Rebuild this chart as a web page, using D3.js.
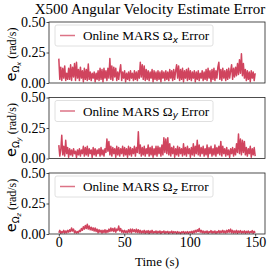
<!DOCTYPE html>
<html>
<head>
<meta charset="utf-8">
<script src="https://cdnjs.cloudflare.com/ajax/libs/d3/7.8.5/d3.min.js"></script>
<style>
  body { margin: 0; background: #fff; overflow: hidden; }
  text { font-family: "Liberation Serif", "DejaVu Serif", serif; fill: #000; }
</style>
</head>
<body>
<script>
// sample grid of the error signals (s)
var timeStart = 0, timeStep = 0.75;

var xTicks = [0, 50, 100, 150];
var yTicks = [0, 0.25, 0.5];
var axisNames = ["x", "y", "z"];

// |error| of the online estimate, rad/s
var errX = [
  0.20,0.03,0.13,0.02,0.12,0.04,0.14,0.02,0.08,0.03,
  0.12,0.03,0.15,0.02,0.13,0.05,0.16,0.02,0.17,0.04,
  0.11,0.02,0.13,0.04,0.10,0.01,0.12,0.03,0.11,0.02,
  0.155,0.03,0.09,0.02,0.08,0.04,0.09,0.01,0.08,0.03,
  0.10,0.02,0.12,0.03,0.11,0.01,0.12,0.04,0.10,0.02,
  0.12,0.04,0.20,0.03,0.14,0.02,0.13,0.05,0.12,0.02,
  0.09,0.03,0.10,0.15,0.02,0.09,0.04,0.10,0.01,0.08,
  0.03,0.09,0.02,0.10,0.04,0.08,0.02,0.10,0.03,0.09,
  0.02,0.10,0.04,0.17,0.05,0.15,0.03,0.14,0.02,0.11,
  0.03,0.10,0.02,0.09,0.04,0.11,0.01,0.10,0.03,0.09,
  0.02,0.10,0.03,0.09,0.01,0.10,0.04,0.09,0.02,0.10,
  0.03,0.09,0.02,0.11,0.04,0.10,0.02,0.11,0.03,0.10,
  0.15,0.04,0.14,0.02,0.11,0.03,0.12,0.01,0.10,0.04,
  0.11,0.02,0.12,0.03,0.10,0.02,0.09,0.04,0.10,0.01,
  0.09,0.03,0.10,0.02,0.08,0.04,0.10,0.02,0.09,0.03,
  0.11,0.02,0.12,0.04,0.10,0.01,0.11,0.03,0.12,0.02,
  0.10,0.04,0.13,0.17,0.03,0.11,0.02,0.12,0.04,0.10,
  0.02,0.11,0.03,0.12,0.04,0.10,0.15,0.03,0.12,0.05,
  0.13,0.06,0.16,0.07,0.19,0.08,0.24,0.06,0.16,0.04,
  0.11,0.02,0.10,0.03,0.09,0.01,0.10,0.04,0.09,0.02,0.08
];

var errY = [
  0.11,0.02,0.07,0.19,0.03,0.10,0.02,0.15,0.04,0.09,
  0.01,0.08,0.03,0.07,0.02,0.08,0.04,0.06,0.01,0.07,
  0.03,0.08,0.02,0.07,0.04,0.10,0.02,0.09,0.03,0.10,
  0.02,0.08,0.04,0.07,0.01,0.09,0.03,0.08,0.02,0.07,
  0.04,0.08,0.02,0.09,0.03,0.07,0.02,0.08,0.05,0.16,
  0.06,0.14,0.03,0.10,0.02,0.09,0.04,0.08,0.01,0.10,
  0.03,0.09,0.02,0.08,0.04,0.10,0.02,0.09,0.03,0.08,
  0.01,0.10,0.03,0.09,0.02,0.08,0.04,0.10,0.02,0.09,
  0.05,0.22,0.04,0.11,0.02,0.09,0.03,0.10,0.02,0.08,
  0.04,0.11,0.02,0.09,0.03,0.10,0.01,0.08,0.03,0.10,
  0.02,0.10,0.04,0.09,0.02,0.11,0.03,0.17,0.05,0.16,
  0.04,0.17,0.03,0.12,0.02,0.09,0.04,0.10,0.01,0.08,
  0.03,0.10,0.02,0.09,0.04,0.08,0.02,0.12,0.03,0.09,
  0.02,0.10,0.04,0.08,0.01,0.09,0.03,0.12,0.02,0.10,
  0.04,0.15,0.03,0.11,0.02,0.09,0.04,0.10,0.02,0.08,
  0.03,0.11,0.01,0.09,0.04,0.10,0.02,0.08,0.03,0.11,
  0.02,0.09,0.04,0.10,0.03,0.14,0.02,0.10,0.04,0.08,
  0.02,0.09,0.03,0.07,0.01,0.08,0.04,0.09,0.02,0.08,
  0.03,0.12,0.05,0.20,0.04,0.16,0.03,0.15,0.05,0.14,
  0.03,0.09,0.02,0.08,0.04,0.10,0.01,0.08,0.03,0.09,0.02
];

var errZ = [
  0.01,0.03,0.005,0.02,0.01,0.03,0.008,0.025,0.01,0.03,
  0.015,0.035,0.02,0.05,0.025,0.04,0.01,0.025,0.008,0.02,
  0.01,0.03,0.02,0.045,0.03,0.06,0.04,0.07,0.045,0.08,
  0.04,0.065,0.035,0.055,0.03,0.05,0.025,0.05,0.02,0.04,
  0.01,0.035,0.015,0.03,0.008,0.03,0.012,0.035,0.01,0.03,
  0.015,0.04,0.02,0.05,0.025,0.045,0.02,0.05,0.015,0.04,
  0.03,0.065,0.025,0.045,0.015,0.03,0.01,0.03,0.012,0.025,
  0.01,0.035,0.015,0.04,0.01,0.04,0.02,0.035,0.015,0.04,
  0.012,0.035,0.01,0.03,0.008,0.025,0.01,0.03,0.006,0.025,
  0.01,0.028,0.005,0.025,0.01,0.03,0.008,0.02,0.01,0.025,
  0.006,0.022,0.01,0.025,0.005,0.02,0.012,0.025,0.006,0.02,
  0.01,0.022,0.005,0.018,0.01,0.024,0.006,0.02,0.01,0.018,
  0.005,0.02,0.008,0.015,0.004,0.018,0.01,0.02,0.005,0.017,
  0.008,0.02,0.005,0.018,0.01,0.022,0.006,0.025,0.01,0.03,
  0.015,0.035,0.02,0.045,0.015,0.03,0.01,0.025,0.008,0.022,
  0.01,0.025,0.006,0.02,0.012,0.028,0.008,0.022,0.01,0.025,
  0.006,0.02,0.01,0.028,0.008,0.025,0.012,0.03,0.01,0.025,
  0.008,0.03,0.012,0.035,0.015,0.04,0.01,0.03,0.008,0.025,
  0.01,0.03,0.006,0.025,0.012,0.028,0.008,0.022,0.01,0.026,
  0.006,0.022,0.01,0.025,0.008,0.02,0.012,0.028,0.006,0.022,0.01
];

var series = [errX, errY, errZ];

var W = 270, H = 272;
var left = 49, right = 265;
var panelTops = [22, 97.5, 173];
var panelH = 61;
var red = "#d0445e";

var svg = d3.select("body").append("svg")
    .attr("width", W)
    .attr("height", H);

var x = d3.scaleLinear()
    .domain([-7.5, 157.5])
    .range([left, right]);

svg.append("text")
    .attr("x", 150)
    .attr("y", 13.5)
    .attr("text-anchor", "middle")
    .style("font-size", "15px")
    .text("X500 Angular Velocity Estimate Error");

series.forEach(function(vals, k) {
    var top = panelTops[k];
    var y = d3.scaleLinear()
        .domain([0, 0.5])
        .range([top + panelH, top]);

    var g = svg.append("g");

    var line = d3.line()
        .x(function(d, i) { return x(timeStart + i * timeStep); })
        .y(function(d) { return y(d); });

    g.append("path")
        .datum(vals)
        .attr("d", line)
        .attr("fill", "none")
        .attr("stroke", red)
        .attr("stroke-width", 1.5)
        .attr("stroke-linejoin", "round");

    // box
    g.append("rect")
        .attr("x", left)
        .attr("y", top)
        .attr("width", right - left)
        .attr("height", panelH)
        .attr("fill", "none")
        .attr("stroke", "#222")
        .attr("stroke-width", 0.8);

    var yAxis = g.append("g")
        .attr("transform", "translate(" + left + ",0)")
        .call(d3.axisLeft(y).tickValues(yTicks).tickFormat(d3.format(".2f")).tickSize(2.5).tickPadding(1));
    yAxis.select(".domain").remove();
    yAxis.selectAll("line").attr("stroke", "#222").attr("stroke-width", 0.8);
    yAxis.selectAll("text").style("font-family", "Liberation Serif").style("font-size", "14px").attr("fill", "#000");

    if (k == 2) {
        var xAxis = g.append("g")
            .attr("transform", "translate(0," + (top + panelH) + ")")
            .call(d3.axisBottom(x).tickValues(xTicks).tickSize(2.5).tickPadding(1));
        xAxis.select(".domain").remove();
        xAxis.selectAll("line").attr("stroke", "#222").attr("stroke-width", 0.8);
        xAxis.selectAll("text").style("font-family", "Liberation Serif").style("font-size", "14px").attr("fill", "#000");
    }

    // legend
    var lg = g.append("g").attr("transform", "translate(55," + (top + 3) + ")");
    lg.append("rect")
        .attr("width", 158)
        .attr("height", 21)
        .attr("rx", 2)
        .attr("fill", "#fff")
        .attr("fill-opacity", 0.8)
        .attr("stroke", "#d8d8d8")
        .attr("stroke-width", 0.8);
    lg.append("line")
        .attr("x1", 5).attr("x2", 20)
        .attr("y1", 10.5).attr("y2", 10.5)
        .attr("stroke", red)
        .attr("stroke-opacity", 0.75)
        .attr("stroke-width", 1.5);
    var lt = lg.append("text")
        .attr("x", 28)
        .attr("y", 15)
        .style("font-size", "13.2px");
    lt.append("tspan").text("Online MARS \u03A9");
    lt.append("tspan")
        .attr("dy", 2.5)
        .style("font-size", "9px")
        .style("font-style", "italic")
        .style("font-family", "DejaVu Sans")
        .text(axisNames[k]);
    lt.append("tspan")
        .attr("dy", -2.5)
        .text(" Error");

    // y label
    var yl = svg.append("text")
        .attr("transform", "translate(16," + (top + panelH / 2 + 2) + ") rotate(-90)")
        .attr("text-anchor", "middle")
        .style("font-size", "12px");
    yl.append("tspan")
        .style("font-family", "DejaVu Sans")
        .style("font-size", "14.5px")
        .text("e");
    yl.append("tspan")
        .attr("dy", 3)
        .style("font-family", "DejaVu Sans")
        .style("font-size", "9px")
        .text("\u03A9");
    yl.append("tspan")
        .attr("dy", 1.5)
        .style("font-family", "DejaVu Sans")
        .style("font-style", "italic")
        .style("font-size", "6.5px")
        .text(axisNames[k]);
    yl.append("tspan")
        .attr("dy", -4.5)
        .text(" (rad/s)");
});

svg.append("text")
    .attr("x", 157)
    .attr("y", 266)
    .attr("text-anchor", "middle")
    .style("font-size", "13px")
    .text("Time (s)");
</script>
</body>
</html>
